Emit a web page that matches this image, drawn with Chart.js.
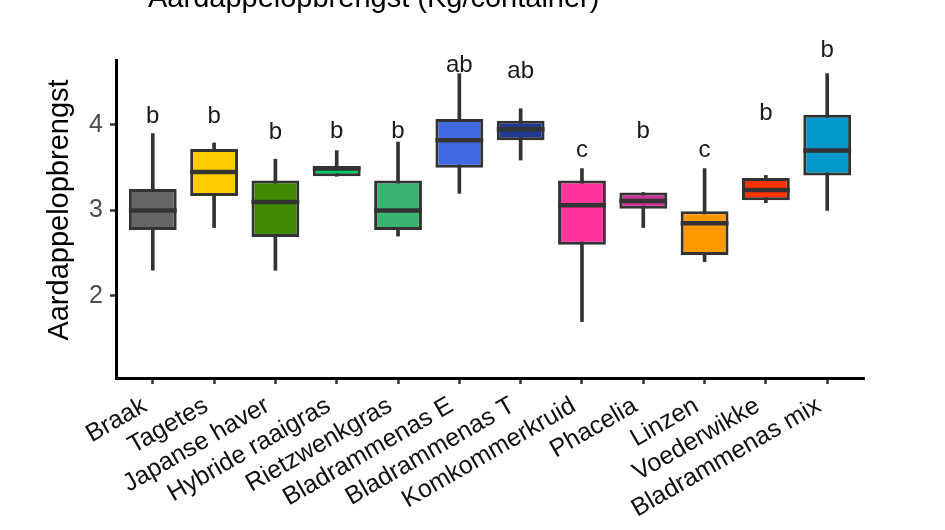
<!DOCTYPE html>
<html>
<head>
<meta charset="utf-8">
<title>Aardappelopbrengst</title>
<script src="https://cdn.jsdelivr.net/npm/chart.js@4.4.1/dist/chart.umd.min.js"></script>
<style>
  body { margin: 0; background: #fff; }
</style>
</head>
<body>
<canvas id="myChart" width="945" height="530"></canvas>
<script>
var categorieen = ['Braak', 'Tagetes', 'Japanse haver', 'Hybride raaigras', 'Rietzwenkgras',
  'Bladrammenas E', 'Bladrammenas T', 'Komkommerkruid', 'Phacelia', 'Linzen',
  'Voederwikke', 'Bladrammenas mix'];
var whiskerLaag = [2.30, 2.80, 2.30, 3.40, 2.70, 3.20, 3.59, 1.70, 2.80, 2.40, 3.09, 3.00];
var kwartiel1   = [2.77, 3.17, 2.69, 3.40, 2.77, 3.50, 3.82, 2.60, 3.02, 2.48, 3.12, 3.41];
var mediaan     = [3.00, 3.45, 3.10, 3.49, 3.00, 3.82, 3.95, 3.06, 3.11, 2.85, 3.24, 3.70];
var kwartiel3   = [3.25, 3.72, 3.35, 3.52, 3.35, 4.07, 4.05, 3.35, 3.21, 2.99, 3.38, 4.12];
var whiskerHoog = [3.90, 3.79, 3.60, 3.70, 3.80, 4.60, 4.19, 3.49, 3.21, 3.49, 3.41, 4.60];
var letters     = ['b', 'b', 'b', 'b', 'b', 'ab', 'ab', 'c', 'b', 'c', 'b', 'b'];
var letterHoogte = [4.02, 4.02, 3.84, 3.85, 3.85, 4.62, 4.55, 3.63, 3.85, 3.63, 4.06, 4.80];
var kleuren = ['#666666', '#FFCC00', '#3F8A00', '#00CC66', '#3CB371', '#4169E1',
  '#1F3A93', '#FF3399', '#CC3399', '#FF9900', '#FF3300', '#0099CC'];
var yTicks = [2, 3, 4];

var titel = 'Aardappelopbrengst (Kg/container)';
var yTitel = 'Aardappelopbrengst';

function getBoxData() {
  var dati = [];
  for (var i = 0; i < categorieen.length; i++) {
    dati.push({ x: i, y: [kwartiel1[i], kwartiel3[i]] });
  }
  return dati;
}
function getWhiskerData() {
  var dati = [];
  for (var i = 0; i < categorieen.length; i++) {
    dati.push({ x: i, y: [whiskerLaag[i], whiskerHoog[i]] });
  }
  return dati;
}

// medianen, letters en titels
var boxplotExtra = {
  id: 'boxplotExtra',
  afterDatasetsDraw: function(chart) {
    var ctx = chart.ctx;
    var y = chart.scales.y;
    var x = chart.scales.x;
    var meta = chart.getDatasetMeta(0);
    ctx.save();
    ctx.strokeStyle = '#333333';
    ctx.lineWidth = 4.5;
    for (var i = 0; i < mediaan.length; i++) {
      var bar = meta.data[i];
      var half = bar.width / 2;
      var py = y.getPixelForValue(mediaan[i]);
      ctx.beginPath();
      ctx.moveTo(bar.x - half, py);
      ctx.lineTo(bar.x + half, py);
      ctx.stroke();
    }
    ctx.fillStyle = '#1a1a1a';
    ctx.font = '24px "Liberation Sans", Arial, sans-serif';
    ctx.textAlign = 'center';
    ctx.textBaseline = 'alphabetic';
    for (var j = 0; j < letters.length; j++) {
      ctx.fillText(letters[j], x.getPixelForValue(j), y.getPixelForValue(letterHoogte[j]));
    }
    ctx.restore();
  },
  afterDraw: function(chart) {
    var ctx = chart.ctx;
    ctx.save();
    ctx.fillStyle = '#000000';
    ctx.font = '29px "Liberation Sans", Arial, sans-serif';
    ctx.textAlign = 'left';
    ctx.textBaseline = 'alphabetic';
    ctx.fillText(titel, 148, 7);
    ctx.translate(60, 210);
    ctx.rotate(-Math.PI / 2);
    ctx.textAlign = 'center';
    ctx.textBaseline = 'middle';
    ctx.fillText(yTitel, 0, 0);
    ctx.restore();
  }
};

var ctx = document.getElementById('myChart').getContext('2d');
var chart = new Chart(ctx, {
  type: 'bar',
  data: {
    datasets: [{
      label: 'box',
      data: getBoxData(),
      backgroundColor: kleuren,
      borderColor: '#333333',
      borderWidth: 3,
      borderSkipped: false,
      grouped: false,
      categoryPercentage: 1,
      barPercentage: 0.78
    }, {
      label: 'whisker',
      data: getWhiskerData(),
      backgroundColor: '#333333',
      borderWidth: 0,
      grouped: false,
      barThickness: 3
    }]
  },
  options: {
    responsive: false,
    animation: false,
    layout: { padding: { top: 60, right: 81, left: 0, bottom: 0 } },
    plugins: {
      legend: { display: false },
      tooltip: { enabled: false }
    },
    scales: {
      x: {
        type: 'linear',
        min: -0.6,
        max: 11.6,
        offset: false,
        afterBuildTicks: function(scale) {
          scale.ticks = categorieen.map(function(c, i) { return { value: i }; });
        },
        afterFit: function(scale) { scale.height = 152; },
        grid: {
          offset: false,
          drawOnChartArea: false,
          drawTicks: true,
          tickLength: 6,
          tickColor: '#333333',
          tickWidth: 2.5
        },
        border: { display: true, color: '#000000', width: 3 },
        ticks: {
          autoSkip: false,
          maxRotation: 30,
          minRotation: 30,
          padding: 7,
          labelOffset: -8,
          color: '#111111',
          font: { family: '"Liberation Sans", Arial, sans-serif', size: 25 },
          callback: function(value) { return categorieen[value]; }
        }
      },
      y: {
        min: 1.04,
        max: 4.76,
        afterBuildTicks: function(scale) {
          scale.ticks = yTicks.map(function(v) { return { value: v }; });
        },
        afterFit: function(scale) { scale.width = 116; },
        grid: {
          drawOnChartArea: false,
          drawTicks: true,
          tickLength: 6,
          tickColor: '#333333',
          tickWidth: 2.5
        },
        border: { display: true, color: '#000000', width: 3 },
        ticks: {
          padding: 7,
          color: '#4d4d4d',
          font: { family: '"Liberation Sans", Arial, sans-serif', size: 25 }
        }
      }
    }
  },
  plugins: [boxplotExtra]
});
</script>
</body>
</html>
